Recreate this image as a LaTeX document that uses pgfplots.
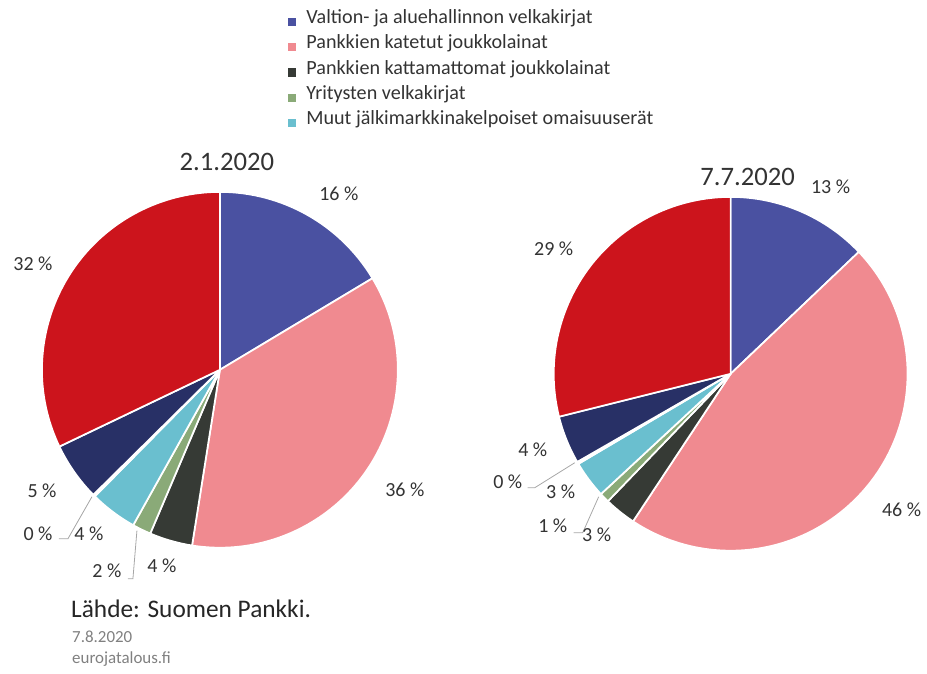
\documentclass[border=0pt]{standalone}
\usepackage{pgfplots}
\pgfplotsset{compat=1.18}
\usepackage{pgfplotstable}
\usepackage{fontspec}
\setmainfont{Carlito}
\definecolor{cblue}{HTML}{4A51A1}
\definecolor{cpink}{HTML}{F08A90}
\definecolor{cdark}{HTML}{363A35}
\definecolor{cgreen}{HTML}{8AAA78}
\definecolor{clblue}{HTML}{6ABFCF}
\definecolor{cnavy}{HTML}{283066}
\definecolor{cred}{HTML}{CC141C}
\definecolor{ctext}{HTML}{333333}
\definecolor{cgray}{HTML}{808080}
\definecolor{cline}{HTML}{A6A6A6}

% shares in percent, clockwise from 12 o'clock
\pgfplotstableread{
share col
16.4 cblue
36.1 cpink
3.9 cdark
1.7 cgreen
4.3 clblue
0.2 white
5.3 cnavy
32.1 cred
}\pieA
\pgfplotstableread{
share col
12.9 cblue
46.4 cpink
2.9 cdark
0.9 cgreen
3.4 clblue
0.2 white
4.4 cnavy
28.9 cred
}\pieB

\newcommand\drawpie[4]{%
  \pgfplotstablegetrowsof{#1}%
  \pgfmathtruncatemacro\lastrow{\pgfplotsretval-1}%
  \def\startang{90}%
  \pgfplotsforeachungrouped \k in {0,...,\lastrow}{%
    \pgfplotstablegetelem{\k}{share}\of{#1}\let\sh\pgfplotsretval
    \pgfplotstablegetelem{\k}{col}\of{#1}\let\cl\pgfplotsretval
    \pgfmathsetmacro\endang{\startang-3.6*\sh}%
    \edef\tmp{\noexpand\fill[\cl, draw=white, line width=1.3pt, line join=round] (axis cs:#2,#3) -- ++(\startang:#4) arc[start angle=\startang, end angle=\endang, radius=#4] -- cycle;}%
    \tmp
    \global\let\startang\endang
  }%
}
\newcommand\lab{\fontsize{15}{18}\selectfont\color{ctext}}

\begin{document}
\begin{tikzpicture}
\begin{axis}[
  width=695.25pt, height=505.5pt, scale only axis,
  xmin=0, xmax=927, ymin=0, ymax=674,
  hide axis, clip=false,
  legend cell align=left,
  legend style={draw=none, fill=none, inner sep=0pt, outer sep=0pt,
    at={(axis description cs:0.3107,0.9866)}, anchor=north west,
    font=\fontsize{15.1}{17}\selectfont\color{ctext},
    row sep=0pt, column sep=8pt,
    nodes={inner sep=0pt, text height=11pt, text depth=8pt}},
  legend image code/.code={\fill[#1] (0pt,-2.6pt) rectangle (5.5pt,2.9pt);},
]
\path (axis cs:0,0) rectangle (axis cs:927,674);
\addlegendimage{cblue}\addlegendentry{Valtion- ja aluehallinnon velkakirjat}
\addlegendimage{cpink}\addlegendentry{Pankkien katetut joukkolainat}
\addlegendimage{cdark}\addlegendentry{Pankkien kattamattomat joukkolainat}
\addlegendimage{cgreen}\addlegendentry{Yritysten velkakirjat}
\addlegendimage{clblue}\addlegendentry{Muut jälkimarkkinakelpoiset omaisuuserät}

\drawpie{\pieA}{220}{304}{133.5pt}
\drawpie{\pieB}{731}{300}{132.75pt}

% titles
\node[font=\fontsize{20}{24}\selectfont\color{ctext}] at (axis cs:227,512) {2.1.2020};
\node[font=\fontsize{20}{24}\selectfont\color{ctext}] at (axis cs:748,497) {7.7.2020};

% leader lines
\draw[cline, line width=0.6pt] (axis cs:92,177) -- (axis cs:68,135) -- (axis cs:59,135);
\draw[cline, line width=0.6pt] (axis cs:137,143) -- (axis cs:133,95) -- (axis cs:128,95);
\draw[cline, line width=0.6pt] (axis cs:575,211) -- (axis cs:535,186) -- (axis cs:528,186);
\draw[cline, line width=0.6pt] (axis cs:599,177) -- (axis cs:583,141) -- (axis cs:574,141);

% data labels, pie 1
\node[font=\lab] at (axis cs:339,480) {16 \%};
\node[font=\lab] at (axis cs:405,184) {36 \%};
\node[font=\lab] at (axis cs:162,108) {4 \%};
\node[font=\lab] at (axis cs:107,103) {2 \%};
\node[font=\lab] at (axis cs:38,140) {0 \%};
\node[font=\lab] at (axis cs:89,140) {4 \%};
\node[font=\lab] at (axis cs:42,183) {5 \%};
\node[font=\lab] at (axis cs:33,410) {32 \%};
% data labels, pie 2
\node[font=\lab] at (axis cs:831,487) {13 \%};
\node[font=\lab] at (axis cs:902,164) {46 \%};
\node[font=\lab] at (axis cs:597,139) {3 \%};
\node[font=\lab] at (axis cs:553,148) {1 \%};
\node[font=\lab] at (axis cs:561,182) {3 \%};
\node[font=\lab] at (axis cs:508,192) {0 \%};
\node[font=\lab] at (axis cs:533,224) {4 \%};
\node[font=\lab] at (axis cs:554,425) {29 \%};

% source
\node[anchor=base west, inner sep=0pt, font=\fontsize{19}{23}\selectfont\color{black!85}] at (axis cs:71,56) {Lähde: Suomen Pankki.};
\node[anchor=base west, inner sep=0pt, font=\fontsize{12.7}{15}\selectfont\color{cgray}] at (axis cs:72,31) {7.8.2020};
\node[anchor=base west, inner sep=0pt, font=\fontsize{12.7}{15}\selectfont\color{cgray}] at (axis cs:72,10) {eurojatalous.fi};
\end{axis}
\end{tikzpicture}
\end{document}
